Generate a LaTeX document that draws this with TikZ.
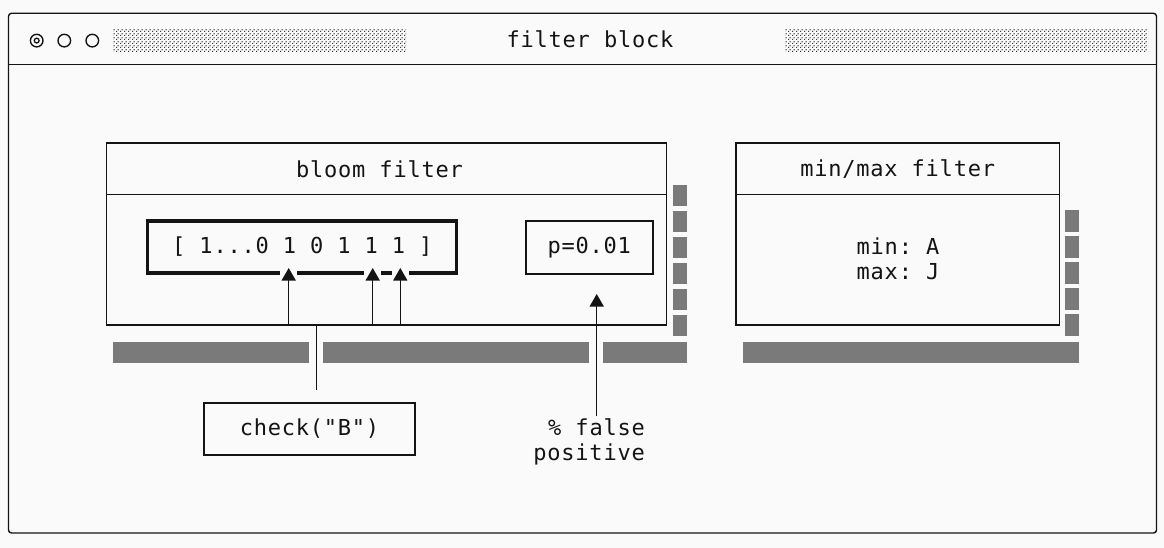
\documentclass[tikz,border=0pt]{standalone}
\usepackage{fontspec}
\setmonofont[LetterSpace=3.5]{DejaVu Sans Mono}
\usetikzlibrary{arrows.meta,patterns.meta,calc}
\definecolor{bgc}{RGB}{250,250,250}
\definecolor{ink}{RGB}{20,20,20}
\definecolor{shadowc}{RGB}{122,122,122}
\tikzdeclarepattern{name=sparsedots, type=uncolored,
  bottom left={(0pt,0pt)}, top right={(4pt,4pt)}, tile size={(4pt,4pt)},
  code={\fill (0pt,0pt) rectangle (1.3pt,1.3pt); \fill (2pt,2pt) rectangle (3.3pt,3.3pt);}}
\begin{document}
\begin{tikzpicture}[x=1pt,y=-1pt,
  every node/.style={font=\ttfamily\fontsize{22}{25}\selectfont, text=ink, inner sep=0pt},
  ln/.style={draw=ink, line width=1.4pt},
  box/.style={ln, rectangle, inner sep=0pt},
  arr/.style={ln, -{Triangle[width=14pt,length=12.5pt]}},
  shd/.style={fill=shadowc},
  dotf/.style={pattern=sparsedots, pattern color=ink!85}]
\fill[bgc] (0,0) rectangle (1164,548);
\useasboundingbox (0,0) rectangle (1164,548);

% window
\node[box, rounded corners=3pt, minimum width=1148pt, minimum height=519.7pt] (win) at (582.5,273.15) {};
\draw[ln] ($(win.north west)+(0,52)$) -- ($(win.north east)+(0,52)$);
\node[circle, ln, minimum size=12.6pt] (b1) at (36.7,40.6) {};
\draw[ln, line width=1.3pt] (b1.center) circle (2.4pt);
\node[circle, ln, minimum size=12.6pt] (b2) at (64.3,40.6) {};
\node[circle, ln, minimum size=12.6pt] (b3) at (92.3,40.6) {};
\fill[dotf] (113,28.5) rectangle (406,51.5);
\fill[dotf] (785,28.5) rectangle (1148,51.5);
\node (title) at (590,39) {filter block};

% shadows
\foreach \i in {0,...,5} {\fill[shd] (673,185+25.9*\i) rectangle (687,206.5+25.9*\i);}
\foreach \i in {0,...,4} {\fill[shd] (1065,210+26*\i) rectangle (1079,232+26*\i);}
\fill[shd] (113,341.5) rectangle (309,362.5);
\fill[shd] (323,341.5) rectangle (589,362.5);
\fill[shd] (603,341.5) rectangle (687,362.5);
\fill[shd] (743,341.5) rectangle (1079,362.5);

% bloom filter
\node[box, fill=bgc, minimum width=560pt, minimum height=182pt] (bloom) at (386.5,234) {};
\draw[ln] ($(bloom.north west)+(0,52)$) -- ($(bloom.north east)+(0,52)$);
\node (bloomt) at (379.5,169) {bloom filter};
\node[box, line width=3.2pt, minimum width=309pt, minimum height=52pt] (bits) at (302.3,247) {[ 1...0 1 0 1 1 1 ]};
\node[box, minimum width=127pt, minimum height=53pt] (pbox) at (589.3,247.5) {p=0.01};

% min/max filter
\node[box, fill=bgc, minimum width=323.3pt, minimum height=182pt] (mm) at (897.7,234) {};
\draw[ln] ($(mm.north west)+(0,52)$) -- ($(mm.north east)+(0,52)$);
\node (mmt) at (897.7,169) {min/max filter};
\node[align=left] (mmtxt) at (898,259) {min: A\\max: J};

% check
\node[box, minimum width=211pt, minimum height=52pt] (check) at (309.5,429) {check("B")};
\node[align=right, anchor=east] (fp) at (645,441.5) {\% false\\positive};

% connectors
\coordinate (t1) at (288.7,268);
\coordinate (t2) at (372.7,268);
\coordinate (t3) at (400.3,268);
\foreach \t in {t1,t2,t3} {\fill[bgc] ($(\t)+(-8.5,1.5)$) rectangle ($(\t)+(8.5,8)$);}
\draw[arr] (t1 |- bloom.south) -- (t1);
\draw[arr] (t2 |- bloom.south) -- (t2);
\draw[arr] (t3 |- bloom.south) -- (t3);
\coordinate (c1) at (316.7,390);
\draw[ln] (c1 |- bloom.south) -- (c1);
\coordinate (ptip) at (596.7,294);
\coordinate (pfoot) at (596.7,416);
\draw[arr] (pfoot) -- (ptip);
\end{tikzpicture}
\end{document}
